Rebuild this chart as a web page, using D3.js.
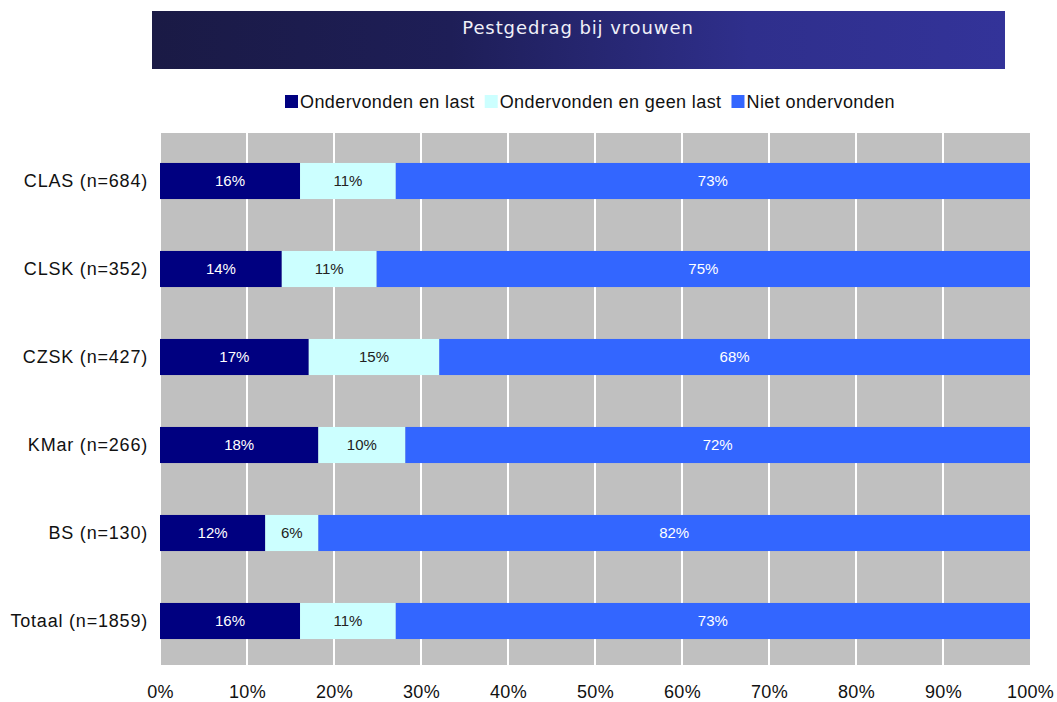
<!DOCTYPE html>
<html>
<head>
<meta charset="utf-8">
<script src="https://cdn.jsdelivr.net/npm/d3@7"></script>
<style>
  body { margin: 0; background: #fff; }
  svg text { font-family: "Liberation Sans", Arial, sans-serif; }
</style>
</head>
<body>
<div id="chart"></div>
<script>
// data
let categories = ["CLAS (n=684)", "CLSK (n=352)", "CZSK (n=427)", "KMar (n=266)", "BS (n=130)", "Totaal (n=1859)"]
let seriesNames = ["Ondervonden en last", "Ondervonden en geen last", "Niet ondervonden"]
let lastValues = [16.1, 14.0, 17.1, 18.2, 12.1, 16.1]
let geenLastValues = [11.0, 10.9, 15.0, 10.0, 6.1, 11.0]
let nietValues = [72.9, 75.1, 67.9, 71.8, 81.8, 72.9]
let tickValues = [0, 10, 20, 30, 40, 50, 60, 70, 80, 90, 100]
let colors = ["#000080", "#CCFFFF", "#3366FF"]
let labelColors = ["#ffffff", "#222222", "#ffffff"]

let W = 1057, H = 702

let svg = d3.select('#chart')
    .append('svg')
    .attr('width', W)
    .attr('height', H)

//title banner
let grad = svg.append('defs').append('linearGradient')
    .attr('id', 'bannerGrad')
    .attr('x1', '0%').attr('x2', '100%')
    .attr('y1', '0%').attr('y2', '0%')
grad.append('stop').attr('offset', '0%').attr('stop-color', '#1a1a45')
grad.append('stop').attr('offset', '35%').attr('stop-color', '#1e1e57')
grad.append('stop').attr('offset', '70%').attr('stop-color', '#2f2f8c')
grad.append('stop').attr('offset', '100%').attr('stop-color', '#333399')

svg.append('rect')
    .attr('x', 152)
    .attr('y', 11)
    .attr('width', 853)
    .attr('height', 58)
    .style('fill', 'url(#bannerGrad)')
svg.append('text')
    .attr('x', 578)
    .attr('y', 34)
    .attr('text-anchor', 'middle')
    .style('font-family', '"DejaVu Sans", Verdana, sans-serif')
    .style('font-size', '18px')
    .style('letter-spacing', '0.9px')
    .style('fill', '#f0f0f8')
    .text('Pestgedrag bij vrouwen')

//scales
let x = d3.scaleLinear().domain([0, 100]).range([160, 1030])
let y = d3.scaleBand().domain(categories).range([137, 665]).paddingInner(0.59).paddingOuter(0.295)

//plot background
svg.append('rect')
    .attr('x', 161)
    .attr('y', 133)
    .attr('width', x(100) - 161)
    .attr('height', 532)
    .style('fill', '#C0C0C0')

svg.append('g').selectAll('line')
    .data(tickValues.slice(1, -1))
    .join('line')
    .attr('x1', d => x(d))
    .attr('x2', d => x(d))
    .attr('y1', 133)
    .attr('y2', 665)
    .style('stroke', '#ffffff')
    .style('stroke-width', 2)

//stacked bars
let rows = categories.map((c, i) => ({
    cat: c,
    vals: [lastValues[i], geenLastValues[i], nietValues[i]]
}))
let segs = []
rows.forEach(r => {
    let acc = 0
    r.vals.forEach((v, k) => {
        segs.push({ cat: r.cat, k: k, x0: acc, x1: acc + v, v: v })
        acc += v
    })
})

svg.append('g').selectAll('rect')
    .data(segs)
    .join('rect')
    .attr('x', d => x(d.x0))
    .attr('y', d => y(d.cat))
    .attr('width', d => x(d.x1) - x(d.x0))
    .attr('height', y.bandwidth())
    .style('fill', d => colors[d.k])

svg.append('g').selectAll('text')
    .data(segs)
    .join('text')
    .attr('x', d => (x(d.x0) + x(d.x1)) / 2)
    .attr('y', d => y(d.cat) + y.bandwidth() / 2)
    .attr('dy', '0.35em')
    .attr('text-anchor', 'middle')
    .style('font-size', '15px')
    .style('fill', d => labelColors[d.k])
    .text(d => Math.round(d.v) + '%')

//y axis labels
let yAxis = svg.append('g')
    .attr('transform', 'translate(148,0)')
    .call(d3.axisLeft(y).tickSize(0).tickPadding(0))
yAxis.select('.domain').remove()
yAxis.selectAll('text')
    .style('font-family', '"Liberation Sans", Arial, sans-serif')
    .style('font-size', '18px')
    .style('letter-spacing', '0.8px')
    .style('fill', '#111')

//x axis labels
let xAxis = svg.append('g')
    .attr('transform', 'translate(0,685)')
    .call(d3.axisBottom(x).tickValues(tickValues).tickFormat(d => d + '%').tickSize(0).tickPadding(0))
xAxis.select('.domain').remove()
xAxis.selectAll('text')
    .style('font-family', '"Liberation Sans", Arial, sans-serif')
    .style('font-size', '18px')
    .style('letter-spacing', '0.3px')
    .style('fill', '#111')

//legend, laid out from measured text widths
let legend = svg.append('g')
let items = legend.selectAll('g')
    .data(seriesNames)
    .join('g')
items.append('rect')
    .attr('width', 13)
    .attr('height', 13)
    .style('fill', (d, i) => colors[i])
items.append('text')
    .attr('x', 15)
    .attr('y', 7)
    .attr('dy', '0.35em')
    .style('font-size', '18px')
    .style('letter-spacing', '0.4px')
    .style('fill', '#111')
    .text(d => d)
let lx = 0
items.each(function () {
    let g = d3.select(this)
    g.attr('transform', `translate(${lx},0)`)
    lx += 15 + g.select('text').node().getComputedTextLength() + 10
})
legend.attr('transform', `translate(${590 - (lx - 10) / 2},95)`)
</script>
</body>
</html>
